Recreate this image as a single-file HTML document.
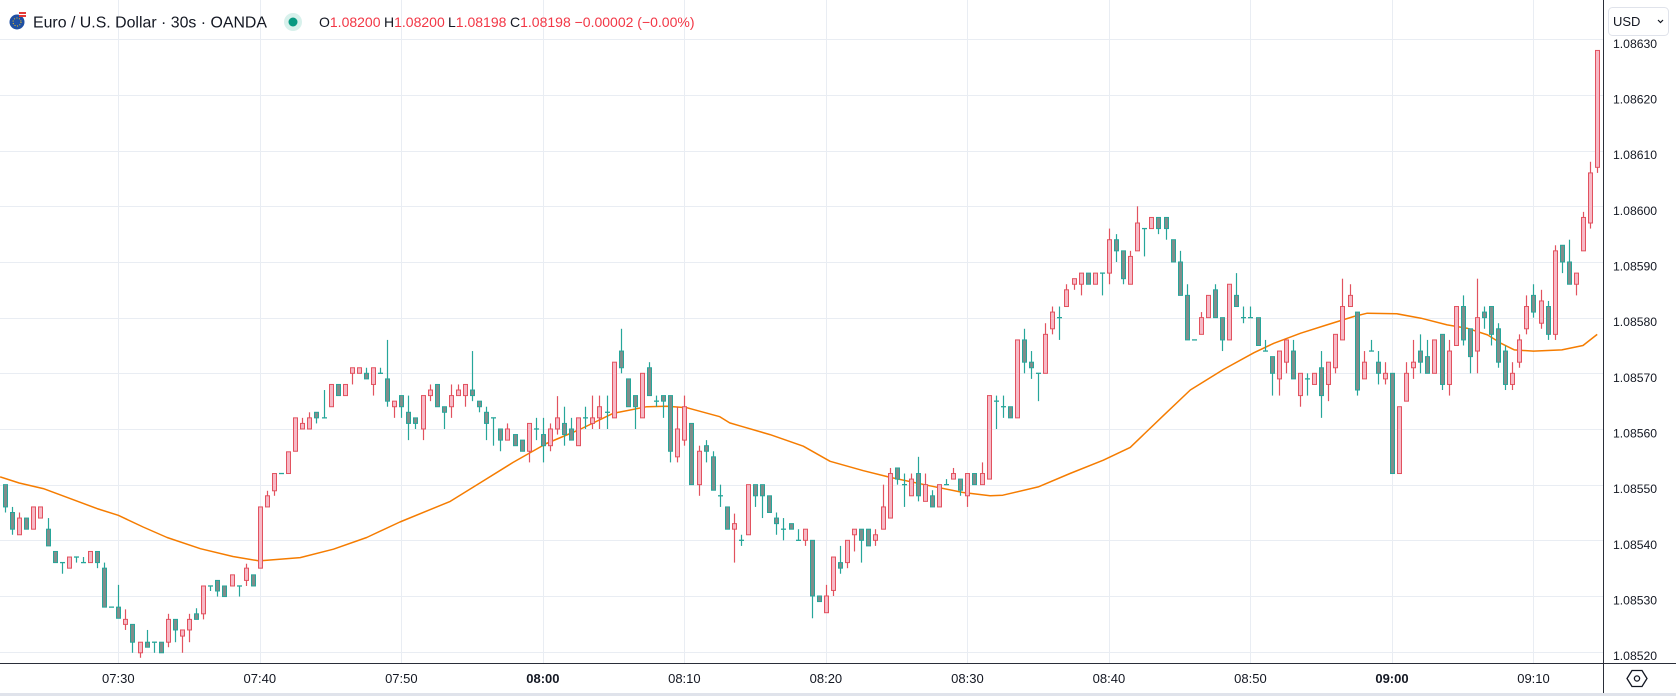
<!DOCTYPE html>
<html>
<head>
<meta charset="utf-8">
<style>
  html,body{margin:0;padding:0;background:#fff;}
  svg{display:block;font-family:"Liberation Sans",sans-serif;}
</style>
</head>
<body>
<svg id="chart" xmlns="http://www.w3.org/2000/svg" width="1676" height="696" viewBox="0 0 1676 696">
  <rect x="0" y="0" width="1676" height="696" fill="#ffffff"/>
  <g id="grid"></g>
  <g id="ma"></g>
  <g id="candles"></g>

  <!-- header -->
  <g>
    <g>
      <circle cx="17" cy="22" r="7.5" fill="#1e4fa3"/>
      <circle cx="17" cy="22" r="4" fill="none" stroke="#f5c518" stroke-width="1" stroke-dasharray="1 1.6"/>
      <path d="M19 12 h7 v2 h-7z M19 15 h7 v2 h-7z" fill="#e53935"/>
      <path d="M19 14 h7 v1 h-7z" fill="#ffffff"/>
    </g>
    <text x="33" y="27.5" font-size="16" fill="#131722" textLength="234" lengthAdjust="spacingAndGlyphs">Euro / U.S. Dollar · 30s · OANDA</text>
    <g>
      <circle cx="293" cy="22" r="9" fill="#d8f1ec"/>
      <circle cx="293" cy="22" r="4.5" fill="#089981"/>
    </g>
    <text x="319" y="27" font-size="14"><tspan fill="#131722">O</tspan><tspan fill="#f23645">1.08200</tspan><tspan fill="#131722" x="384">H</tspan><tspan fill="#f23645">1.08200</tspan><tspan fill="#131722" x="448">L</tspan><tspan fill="#f23645">1.08198</tspan><tspan fill="#131722" x="510">C</tspan><tspan fill="#f23645">1.08198 −0.00002 (−0.00%)</tspan></text>
  </g>

  <!-- axes frame -->
  <line x1="1603.5" y1="0" x2="1603.5" y2="693" stroke="#2a2e39" stroke-width="1"/>
  <line x1="0" y1="663.5" x2="1676" y2="663.5" stroke="#2a2e39" stroke-width="1"/>
  <rect x="0" y="693" width="1676" height="3" fill="#e0e3eb"/>
  <g id="priceLabels"></g>
  <g id="timeLabels"></g>

  <g>
    <rect x="1608.5" y="7.5" width="60" height="28" rx="4" fill="#ffffff" stroke="#e0e3eb"/>
    <text x="1613" y="26" font-size="13" fill="#131722">USD</text>
    <path d="M1658 20 l2.5 2.5 l2.5 -2.5" fill="none" stroke="#131722" stroke-width="1.2"/>
  </g>
  <g>
    <path d="M1632 670.5 h10 l5 8 l-5 8 h-10 l-5 -8 z" fill="none" stroke="#131722" stroke-width="1.3"/>
    <circle cx="1637" cy="678.5" r="2.6" fill="none" stroke="#131722" stroke-width="1.3"/>
  </g>
</svg>

<script>
// Prices are stored as offsets in units of 0.00001 above 1.08500
const opens = [
50,45,41,44,42,44,42,38,36,35,
37,36,36,38,35,28,28,24.9,24.9,19.8,
21.7,21.7,21.7,21.7,25.8,22.8,23.9,26.8,26.8,31.8,
32.8,31.8,31.8,31.8,32.8,33.8,35,46,48.9,52,
52,56,60,60,63,62,64,68,66,70,
70,70,68,70,69,64,66,63,62,60,
66,68,64,64,66,66,67,65,63,62,
60,58,59,58,56,60,59,57,60,61,
60,57,62,61,62,63,62,74,69,66,
62,71,65,66,66,55,58,61,50,57,
55,48,46,42,40,41,50,50,48,44,
42,43,40,40,40,30,27,31,36,36,
41,42,42,40,42,44,53,50,48,52,
47,48,46,50,51,51,48,52,50,51,
65,64,64,62,76,72,70,70,78,80,
82,86,86,88,86,88,88,94,92,86,
92,96,96,98,98,94,90,84,76,77,
80,85,80,76,84,80,80,80,74,73,
69,72,74,66,69,68,71,68,71,76,
82,81,69,74,72,69,70,52,65,71,
74,73,70,77,68,75,82,78,74,81,
82,78,74,68,72,78,84,79,82,77,
93,90,86,92,97,107];
const highs = [
50,46,45,44,46,46,44,38,36,37,
37,37,38,38,36,28,32,27.6,24.9,21.7,
23.9,21.7,21.7,26.8,25.8,23.9,26.8,27.8,31.8,31.8,
32.8,31.8,33.8,31.8,35.8,33.8,46,48.9,52,52,
55.9,62,62,63,63,67,68,68,68,71,
71,71,71,71,76,65,66,66,62,66,
68,68,64,68,68,68,74,65,64,62,
60,61,59,58,61,62,62,61,65.9,64,
62,62,64,66,66,66,72,78,69,66,
70,72,66,66,66,64,66,61,57,58,
56,50,46,44.8,41,50,50,50,48,45,
44,43,42,42,40,30,32,37,39,40,
42,42,42,42,50,53,53,52,52,55,
52,49,50,51,53,51,52,52,54,66,
66,66,64,76,78,74,70,79,82,82,
86,87,88,88,88,88,96,95,92,92,
100,96,98,98,98,94,92,86,76,81,
84,86,80,86,88,82,82,80,76,73,
74,76,76,70,70,70,74,72,77,87,
86,81,74,76,74,72,70,64,72,76,
77,76,76,77,76,82,84,78,87,82,
82,79,75,72,77,84,86,85,83,93,
93,94,88,99,108,128];
const lows = [
45,41,41,42,42,44,39,36,34,35,
36,36,36,35,28,28,26,23.9,19.8,18.9,
20.8,19.8,19.8,20.8,21.7,19.8,21.7,25.8,25.8,30.9,
29.9,29.9,31.8,29.9,31.8,31.8,35,46,48,52,
52,56,60,60,61,62,64,66,66,68,
70,69,66,70,64,62,62,58,60,58,
65,64,60,62,66,64,65,63,58,57,
56,58,57,56,54,58,54,56,59,57,
58,57,60,60,60,60,62,70,64,60,
62,66,64,62,54,54,57,50,48,54,
49,46,42,36,39,41,46,44,45,41,
40,42,40,39,26,29,27,30,34,35,
38,36,39,39,42,44,50,46,48,47,
47,46,46,50,51,48,46,50,50,51,
60,62,62,62,70,69,65,70,77,76,
82,85,84,86,86,84,86,90,86,86,
92,91,96,95,94,90,84,76,76,77,
80,80,74,76,82,79,80,75,74,66,
66,70,69,64,66,68,62,65,70,76,
82,66,69,74,68,68,52,52,65,69,
70,70,70,67,66,75,75,70,70,78,
75,71,67,67,71,77,80,78,76,76,
88,86,84,92,96,106];
const closes = [
46,42,44,42,46,46,39,36,36,37,
37,36,38,36,28,28,26,25.8,21.7,21.7,
20.8,21.7,19.8,25.8,23.9,23.9,25.8,25.8,31.8,31.8,
30.9,29.9,33.8,31.8,35,31.8,46,48,52,52,
55.9,62,61,62,62,62,68,66,68,71,
71,69,71,70,65,65,64,61,61,66,
67,64,63,66,67,68,66,64,61,62,
58,60,57,56,61,60,57,60,62,59,
58,62,62,62,64,63,72,71,64,64,
70,66,65,65,56,60,64,50,56,56,
49,48,42,43,40,50,48,48,45,43,
42,42,40,42,30,29,30,37,35,40,
42,40,39,41,46,52,51,50,51,48,
50,46,50,50,52,49,52,50,52,66,
65,64,62,76,72,71,70,77,81,80,
85,87,88,86,88,88,94,92,87,91,
97,96,98,96,96,90,84,76,76,80,
84,80,76,86,82,80,80,75,74,70,
74,76,69,70,69,70,66,72,77,82,
84,67,72,74,70,70,52,64,70,72,
72,70,76,68,74,82,76,73,80,80,
77,72,68,70,76,82,81,83,77,92,
90,86,88,98,106,128];

// moving average: candle position and value
const maPos = [-0.7,2,5.4,9.2,13,16,19.5,22.9,27.6,32.2,35.9,41.7,46.4,51.1,55.8,62.9,67.1,71.8,76.5,81.2,85.9,90.7,93.5,96.4,101,102.4,104,108.1,112.8,116.6,121.3,125.1,130.7,135.4,139.2,141,146,150.5,155.2,159,163.7,167.5,172.2,176.5,179.3,183.1,186.8,190.6,192.5,196.7,200.1,203.8,206.6,209.5,211.4,213.3,216,220,223,225];
const maVal = [51.4,50.3,49.3,47.5,45.7,44.5,42.4,40.5,38.5,37.1,36.3,36.9,38.4,40.5,43.3,47,50.3,54,57.4,59.9,62.8,64,64.1,63.8,62.2,61.1,60.5,59,56.9,54.2,52.5,51.3,49.8,48.6,48,48.1,49.6,52,54.4,56.7,62.4,67,70.7,73.7,75.4,77.2,78.7,80.2,80.8,80.7,79.9,78.7,78.1,76.9,75.4,74.2,74,74.2,75,77];

const priceTicks = [20,30,40,50,60,70,80,90,100,110,120,130];
const priceTickLabels = ["1.08520","1.08530","1.08540","1.08550","1.08560","1.08570","1.08580","1.08590","1.08600","1.08610","1.08620","1.08630"];
const timeTickIndex = [16,36,56,76,96,116,136,156,176,196,216];
const timeTickLabels = ["07:30","07:40","07:50","08:00","08:10","08:20","08:30","08:40","08:50","09:00","09:10"];
const timeTickBold = [false,false,false,true,false,false,false,false,false,true,false];

const NS = "http://www.w3.org/2000/svg";
function yOf(v){ return 39.3 + (130 - v) * 5.567; }
function xOf(i){ return 118.3 + (i - 16) * 7.076; }
function mk(tag, attrs, parent){
  const el = document.createElementNS(NS, tag);
  for (const k in attrs) el.setAttribute(k, attrs[k]);
  parent.appendChild(el);
  return el;
}

const grid = document.getElementById('grid');
const pl = document.getElementById('priceLabels');
priceTicks.forEach(function(v, k){
  const y = Math.round(yOf(v)) + 0.5;
  const gl = mk('line', {x1:0, x2:1603, y1:y, y2:y, stroke:'#e9edf3', 'stroke-width':1}, grid);
  
  
  const t = mk('text', {x:1613, y:yOf(v) + 8.5, 'font-size':12.2, fill:'#131722'}, pl);
  t.textContent = priceTickLabels[k];
  
  
});
const tl = document.getElementById('timeLabels');
timeTickIndex.forEach(function(idx, k){
  const x = Math.round(xOf(idx)) + 0.5;
  const gl = mk('line', {x1:x, x2:x, y1:0, y2:663, stroke:'#e9edf3', 'stroke-width':1}, grid);
  
  
  const t = mk('text', {x:xOf(idx), y:683, 'font-size':13, fill:'#131722', 'text-anchor':'middle', 'font-weight': timeTickBold[k] ? 'bold' : 'normal'}, tl);
  t.textContent = timeTickLabels[k];
  
  
});

// moving average line
const maG = document.getElementById('ma');
let d = '';
maPos.forEach(function(p, k){
  d += (k ? 'L' : 'M') + xOf(p).toFixed(1) + ' ' + yOf(maVal[k]).toFixed(1) + ' ';
});
const maPath = mk('path', {d:d, fill:'none', stroke:'#f57c00', 'stroke-width':1.5, 'stroke-linejoin':'round'}, maG);



// candles
const cg = document.getElementById('candles');
opens.forEach(function(o, i){
  const c = closes[i], h = highs[i], l = lows[i];
  const up = c > o;
  const stroke = up ? '#e2525f' : '#26a69a';
  const fill = up ? '#f7b9c6' : '#808d8b';
  const x = Math.round(xOf(i)) + 0.5;
  const g = mk('g', {}, cg);
  
  
  mk('line', {x1:x, x2:x, y1:yOf(h), y2:yOf(l), stroke:stroke, 'stroke-width':1.2}, g);
  const top = yOf(Math.max(o, c)), bot = yOf(Math.min(o, c));
  if (bot - top < 1.5) {
    mk('line', {x1:x - 2.5, x2:x + 2.5, y1:top, y2:top, stroke:stroke, 'stroke-width':1.3}, g);
  } else {
    mk('rect', {x:x - 2, y:top, width:4, height:bot - top, fill:fill, stroke:stroke, 'stroke-width':1}, g);
  }
});
</script>
</body>
</html>
